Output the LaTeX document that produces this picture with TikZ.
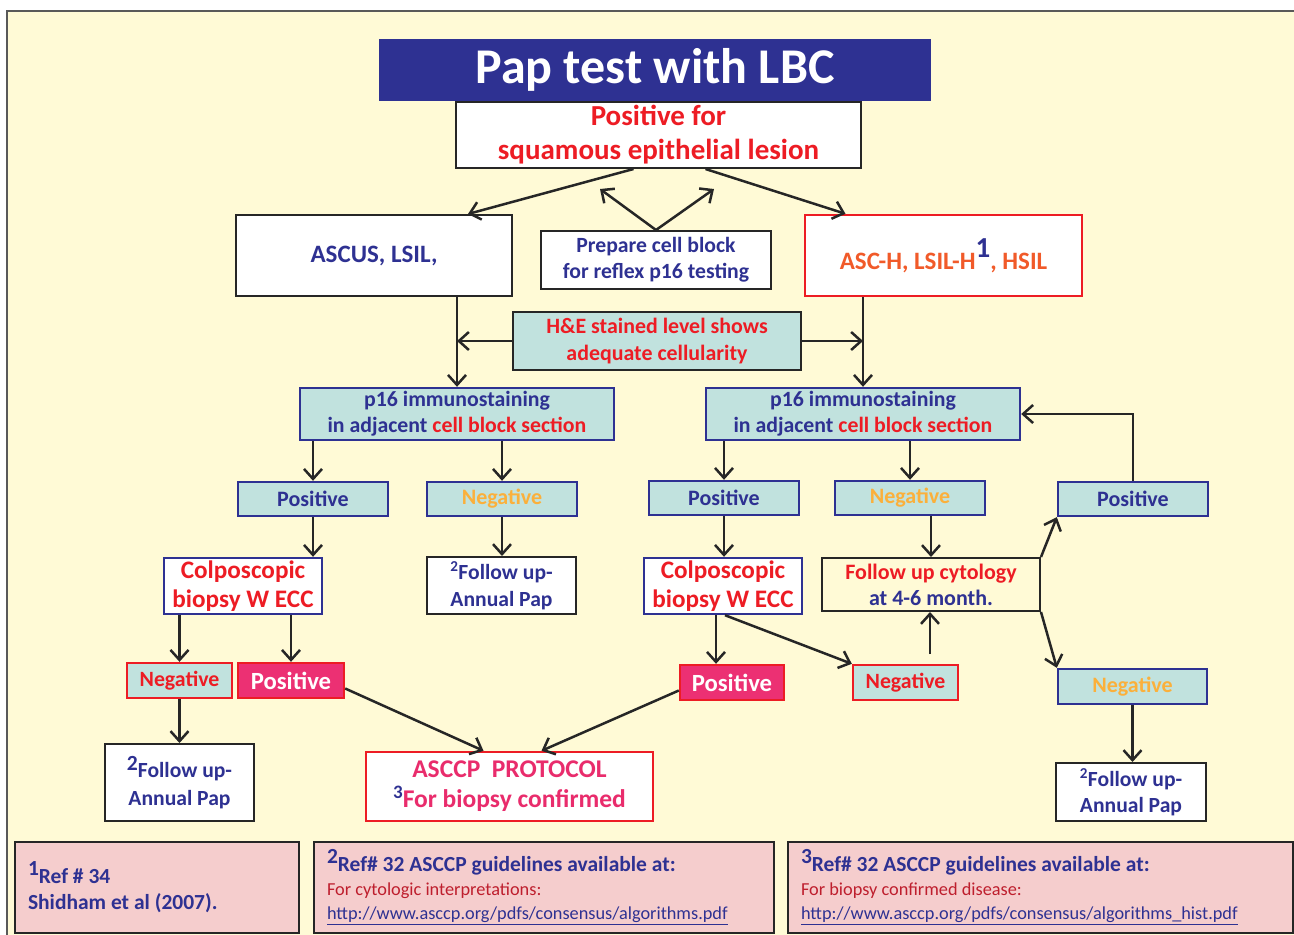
\documentclass[tikz,border=0pt]{standalone}
\usepackage{fontspec}
\setmainfont{Carlito}
\usepackage{tikz}
\usetikzlibrary{arrows.meta, positioning}
\definecolor{bgyel}{RGB}{255,250,214}
\definecolor{navy}{RGB}{46,49,146}
\definecolor{lbcred}{RGB}{237,28,36}
\definecolor{orred}{RGB}{241,90,41}
\definecolor{tealfill}{RGB}{193,226,222}
\definecolor{negyel}{RGB}{251,176,59}
\definecolor{magfill}{RGB}{236,48,115}
\definecolor{pinktxt}{RGB}{233,44,108}
\definecolor{reffill}{RGB}{245,205,205}
\definecolor{refred}{RGB}{190,30,45}
\newcommand{\fsz}[2]{\fontsize{#1}{#2}\selectfont}

\begin{document}
\begin{tikzpicture}[
  x=1pt, y=-1pt,
  base/.style={rectangle, inner sep=0pt, align=center, line width=2pt},
  wbox/.style={base, draw=black!85, fill=white},
  rbox/.style={base, draw=lbcred, fill=white, line width=2.4pt},
  hebox/.style={base, draw=black!85, fill=tealfill},
  tbox/.style={base, draw=navy, fill=tealfill, line width=2.4pt},
  cbox/.style={base, draw=navy, fill=white, line width=2.4pt},
  negbox/.style={base, draw=lbcred, fill=tealfill, line width=2.4pt},
  posbox/.style={base, draw=lbcred, fill=magfill, line width=2.4pt},
  refbox/.style={base, draw=black!85, fill=reffill, line width=2.6pt,
                 align=flush left, inner xsep=13pt},
  arr/.style={-{Straight Barb[length=10pt,width=18pt]}, line width=2.5pt, black!85}]

  \useasboundingbox (0,0) rectangle (1294,935);
  \fill[white] (0,0) rectangle (1294,935);
  \fill[bgyel] (7,11) rectangle (1294,935);
  \draw[black!65, line width=1.5pt] (7,935) -- (7,11) -- (1294,11);

  % top of the chart
  \node[base, fill=navy, text=white, minimum width=552pt, minimum height=62pt,
        font=\bfseries\fsz{50}{54}] (title) at (655,70) {Pap test with LBC};
  \node[wbox, minimum width=405pt, minimum height=66pt, text=lbcred,
        font=\bfseries\fsz{29}{34}] (posfor) at (658.5,135)
        {Positive for\\squamous epithelial lesion};
  \node[wbox, minimum width=276pt, minimum height=81pt, text=navy,
        font=\bfseries\fsz{25}{28}] (ascus) at (374,255.5) {ASCUS, LSIL,};
  \node[wbox, minimum width=230pt, minimum height=58pt, text=navy,
        font=\bfseries\fsz{21.7}{26}] (prep) at (656,260)
        {Prepare cell block\\for reflex p16 testing};
  \node[rbox, minimum width=277pt, minimum height=81pt, text=orred,
        font=\bfseries\fsz{25}{28}] (asch) at (943.5,255.5)
        {ASC-H, LSIL-H\raisebox{12pt}{\fsz{29}{29}\color{navy}1}, HSIL};
  \node[hebox, minimum width=288pt, minimum height=58pt, text=lbcred,
        font=\bfseries\fsz{21.9}{27}] (he) at (657,341)
        {H\&E stained level shows\\adequate cellularity};

  \coordinate (tipl) at (600,189);
  \coordinate (tipr) at (714,189);
  \draw[arr] ([xshift=-25pt]posfor.south) -- ([xshift=94pt]ascus.north);
  \draw[arr] ([xshift=47pt]posfor.south) -- ([xshift=-98pt]asch.north);
  \draw[arr] (prep.north) -- (tipl);
  \draw[arr] (prep.north) -- (tipr);

  % p16 rows
  \node[tbox, minimum width=314pt, minimum height=52pt, text=navy,
        font=\bfseries\fsz{21.8}{26}] (p16l) at (457,414)
        {p16 immunostaining\\in adjacent {\color{lbcred}cell block section}};
  \node[tbox, minimum width=314pt, minimum height=52pt, text=navy,
        font=\bfseries\fsz{21.8}{26}] (p16r) at (863,414)
        {p16 immunostaining\\in adjacent {\color{lbcred}cell block section}};

  \draw[arr] (ascus.south -| p16l.north) -- (p16l.north);
  \draw[arr] (asch.south -| p16r.north) -- (p16r.north);
  \draw[arr] (he.west) -- (he.west -| p16l.north);
  \draw[arr] (he.east) -- (he.east -| p16r.north);

  \node[tbox, minimum width=150pt, minimum height=34pt, text=navy,
        font=\bfseries\fsz{22}{24}] (posl) at (313,499) {Positive};
  \node[tbox, minimum width=150pt, minimum height=34pt, text=negyel,
        font=\bfseries\fsz{22}{24}] (negl) at (502,499) {Negative};
  \node[tbox, minimum width=150pt, minimum height=34pt, text=navy,
        font=\bfseries\fsz{22}{24}] (posr) at (724,498) {Positive};
  \node[tbox, minimum width=150pt, minimum height=34pt, text=negyel,
        font=\bfseries\fsz{22}{24}] (negr) at (910,498) {Negative};
  \node[tbox, minimum width=150pt, minimum height=34pt, text=navy,
        font=\bfseries\fsz{22}{24}] (posfar) at (1133,499) {Positive};

  \draw[arr] (p16l.south -| posl.north) -- (posl.north);
  \draw[arr] (p16l.south -| negl.north) -- (negl.north);
  \draw[arr] (p16r.south -| posr.north) -- (posr.north);
  \draw[arr] (p16r.south -| negr.north) -- (negr.north);
  \draw[arr] (posfar.north) |- (p16r.east);

  % biopsy and follow up
  \node[cbox, minimum width=158pt, minimum height=56pt, text=lbcred,
        font=\bfseries\fsz{25.2}{29}] (colpl) at (243,586) {Colposcopic\\biopsy W ECC};
  \node[wbox, minimum width=149pt, minimum height=57pt, text=navy,
        font=\bfseries\fsz{21.6}{27}] (fupl) at (501.5,585.5)
        {\textsuperscript{2}Follow up-\\Annual Pap};
  \node[cbox, minimum width=158pt, minimum height=56pt, text=lbcred,
        font=\bfseries\fsz{25.2}{29}] (colpr) at (723,586) {Colposcopic\\biopsy W ECC};
  \node[base, draw=black!85, minimum width=218pt, minimum height=53pt, text=lbcred,
        font=\bfseries\fsz{22}{26}] (fucyt) at (931,584.5)
        {Follow up cytology\\{\color{navy}at 4-6 month.}};

  \draw[arr] (posl.south) -- (posl.south |- colpl.north);
  \draw[arr] (negl.south) -- (negl.south |- fupl.north);
  \draw[arr] (posr.south) -- (posr.south |- colpr.north);
  \draw[arr] (negr.south -| fucyt.north) -- (fucyt.north);

  \node[tbox, minimum width=149pt, minimum height=35pt, text=negyel,
        font=\bfseries\fsz{22}{24}] (negfar) at (1132.5,686.5) {Negative};
  \node[wbox, minimum width=150pt, minimum height=58pt, text=navy,
        font=\bfseries\fsz{21.6}{26}] (fufar) at (1131,792)
        {\textsuperscript{2}Follow up-\\Annual Pap};

  \draw[arr] (fucyt.north east) -- (posfar.south west);
  \draw[arr] (fucyt.south east) -- (negfar.north west);
  \draw[arr] (negfar.south) -- (negfar.south |- fufar.north);

  \node[negbox, minimum width=105pt, minimum height=35pt, text=lbcred,
        font=\bfseries\fsz{21.8}{24}] (negll) at (179.5,680.5) {Negative};
  \node[posbox, minimum width=106pt, minimum height=35pt, text=white,
        font=\bfseries\fsz{24.7}{26}] (posll) at (291,680.5) {Positive};
  \node[posbox, minimum width=104pt, minimum height=35pt, text=white,
        font=\bfseries\fsz{24.7}{26}] (posrr) at (732,682.5) {Positive};
  \node[negbox, minimum width=105pt, minimum height=35pt, text=lbcred,
        font=\bfseries\fsz{21.8}{24}] (negrr) at (905.5,682.5) {Negative};
  \node[wbox, minimum width=149pt, minimum height=77pt, text=navy,
        font=\bfseries\fsz{21.6}{28}] (full) at (179.5,782.5)
        {\raisebox{7pt}{2}Follow up-\\Annual Pap};
  \node[rbox, minimum width=287pt, minimum height=69pt, text=pinktxt,
        font=\bfseries\fsz{25.5}{30}] (asccp) at (509.5,786.5)
        {ASCCP\ \ PROTOCOL\\\raisebox{9pt}{\color{navy}\fsz{19}{19}3}For biopsy confirmed};

  \draw[arr] (colpl.south -| negll.north) -- (negll.north);
  \draw[arr] (colpl.south -| posll.north) -- (posll.north);
  \draw[arr] (negll.south) -- (full.north);
  \draw[arr] ([yshift=-8pt]posll.east) -- ([xshift=-26pt]asccp.north);
  \draw[arr] ([yshift=-8pt]posrr.west) -- ([xshift=32pt]asccp.north);
  \draw[arr] ([xshift=-7pt]colpr.south) -- ([xshift=-16pt]posrr.north);
  \draw[arr] ([xshift=2pt]colpr.south) -- (negrr.north west);
  \coordinate (negtop) at (930,654);
  \draw[arr] (negtop) -- (negtop |- fucyt.south);

  % references
  \node[refbox, minimum height=91pt, text width=258pt, text=navy,
        font=\bfseries\fsz{21.5}{26}] (ref1) at (157,887.5)
        {\raisebox{8pt}{1}Ref \# 34\\Shidham et al (2007).};
  \node[refbox, minimum height=91pt, text width=434pt, text=navy,
        font=\bfseries\fsz{21.5}{24}] (ref2) at (544,887.5)
        {\raisebox{8pt}{2}Ref\# 32 ASCCP guidelines available at:\\
         {\mdseries\fsz{18.3}{22}\color{refred}For cytologic interpretations:}\\
         {\mdseries\fsz{18.3}{22}\underline{http://www.asccp.org/pdfs/consensus/algorithms.pdf}}};
  \node[refbox, minimum height=91pt, text width=479pt, text=navy,
        font=\bfseries\fsz{21.5}{24}] (ref3) at (1040.5,887.5)
        {\raisebox{8pt}{3}Ref\# 32 ASCCP guidelines available at:\\
         {\mdseries\fsz{18.3}{22}\color{refred}For biopsy confirmed disease:}\\
         {\mdseries\fsz{18.3}{22}\underline{http://www.asccp.org/pdfs/consensus/algorithms\_hist.pdf}}};
\end{tikzpicture}
\end{document}
